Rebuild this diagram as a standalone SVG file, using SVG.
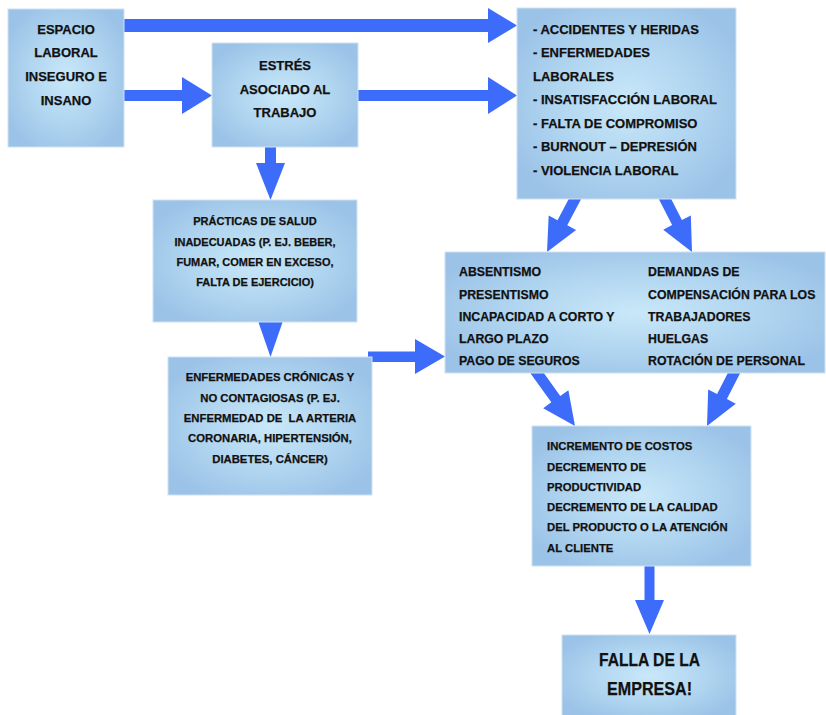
<svg xmlns="http://www.w3.org/2000/svg" width="826" height="715" viewBox="0 0 826 715">
<defs>
<radialGradient id="boxfill" cx="0.5" cy="0.5" r="0.6">
<stop offset="0" stop-color="#c9e8f9"/>
<stop offset="0.55" stop-color="#b0d5f0"/>
<stop offset="1" stop-color="#9bc2e7"/>
</radialGradient>
</defs>
<style>
.box{fill:url(#boxfill);stroke:#cfe2f4;stroke-width:1}
.arr{fill:#3d6cfb}
text{font-family:"Liberation Sans",Arial,sans-serif;font-weight:bold;fill:#111;stroke:#111;stroke-width:0.25}
.c{text-anchor:middle}
.f13{font-size:13px}
.f11{font-size:11px}
.f113{font-size:11.3px}
.f123{font-size:12.3px}
.f18{font-size:18px}
</style>
<rect width="826" height="715" fill="#ffffff"/>
<g id="connectors">
<polygon class="arr" points="120,19 488,19 488,8 517,25.5 488,43 488,32 120,32"/>
<polygon class="arr" points="120,90 182,90 182,77 212,95.5 182,114 182,101 120,101"/>
<polygon class="arr" points="354,90 488,90 488,77 517,95.5 488,114 488,101 354,101"/>
<polygon class="arr" points="265,143 276,143 276,163 285,163 270.5,200 256,163 265,163"/>
<polygon class="arr" points="257,318 284,318 270.5,357"/>
<polygon class="arr" points="368,351.5 415,351.5 415,339 445,356.5 415,374 415,362 368,362"/>
<polygon class="arr" transform="translate(547,252) rotate(117.8)" points="0,0 -33,-15.5 -33,-5.5 -66,-5.5 -66,5.5 -33,5.5 -33,15.5"/>
<polygon class="arr" transform="translate(692,252) rotate(63)" points="0,0 -33,-15.5 -33,-5.5 -66,-5.5 -66,5.5 -33,5.5 -33,15.5"/>
<polygon class="arr" transform="translate(575,426) rotate(54.4)" points="0,0 -33,-15.5 -33,-5.5 -72,-5.5 -72,5.5 -33,5.5 -33,15.5"/>
<polygon class="arr" transform="translate(707,426) rotate(117)" points="0,0 -33,-15.5 -33,-5.5 -66,-5.5 -66,5.5 -33,5.5 -33,15.5"/>
<polygon class="arr" points="644.5,562 654.5,562 654.5,600 664,600 649.5,634 635,600 644.5,600"/>
</g>
<g id="espacio">
<rect class="box" x="8" y="9" width="116" height="138"/>
<text class="c f13" x="66" y="33.5">ESPACIO</text>
<text class="c f13" x="66" y="57.2">LABORAL</text>
<text class="c f13" x="66" y="80.9">INSEGURO E</text>
<text class="c f13" x="66" y="104.6">INSANO</text>
</g>
<g id="estres">
<rect class="box" x="212" y="43" width="146" height="104"/>
<text class="c f13" x="285" y="70">ESTRÉS</text>
<text class="c f13" x="285" y="93.5">ASOCIADO AL</text>
<text class="c f13" x="285" y="116.5">TRABAJO</text>
</g>
<g id="consecuencias">
<rect class="box" x="517" y="8" width="219" height="191"/>
<text class="f13" x="533" y="33.5">- ACCIDENTES Y HERIDAS</text>
<text class="f13" x="533" y="57">- ENFERMEDADES</text>
<text class="f13" x="533" y="80.5">LABORALES</text>
<text class="f13" x="533" y="104">- INSATISFACCIÓN LABORAL</text>
<text class="f13" x="533" y="127.5">- FALTA DE COMPROMISO</text>
<text class="f13" x="533" y="151">- BURNOUT – DEPRESIÓN</text>
<text class="f13" x="533" y="174.5">- VIOLENCIA LABORAL</text>
</g>
<g id="practicas">
<rect class="box" x="153" y="200" width="204" height="122"/>
<text class="c f11" x="255" y="225">PRÁCTICAS DE SALUD</text>
<text class="c f11" x="255" y="245.5">INADECUADAS (P. EJ. BEBER,</text>
<text class="c f11" x="255" y="266">FUMAR, COMER EN EXCESO,</text>
<text class="c f11" x="255" y="286.3">FALTA DE EJERCICIO)</text>
</g>
<g id="cronicas">
<rect class="box" x="168" y="357" width="204" height="138"/>
<text class="c f113" x="270" y="381">ENFERMEDADES CRÓNICAS Y</text>
<text class="c f113" x="270" y="401.5">NO CONTAGIOSAS (P. EJ.</text>
<text class="c f113" x="270" y="422" xml:space="preserve">ENFERMEDAD DE  LA ARTERIA</text>
<text class="c f113" x="270" y="442.4">CORONARIA, HIPERTENSIÓN,</text>
<text class="c f113" x="270" y="462.8">DIABETES, CÁNCER)</text>
</g>
<g id="ausentismo">
<rect class="box" x="445" y="252" width="380" height="121"/>
<text class="f123" x="459" y="276.4">ABSENTISMO</text>
<text class="f123" x="459" y="298.5">PRESENTISMO</text>
<text class="f123" x="459" y="320.6">INCAPACIDAD A CORTO Y</text>
<text class="f123" x="459" y="342.7">LARGO PLAZO</text>
<text class="f123" x="459" y="364.8">PAGO DE SEGUROS</text>
<text class="f123" x="648" y="276.4">DEMANDAS DE</text>
<text class="f123" x="648" y="298.5">COMPENSACIÓN PARA LOS</text>
<text class="f123" x="648" y="320.6">TRABAJADORES</text>
<text class="f123" x="648" y="342.7">HUELGAS</text>
<text class="f123" x="648" y="364.8">ROTACIÓN DE PERSONAL</text>
</g>
<g id="costos">
<rect class="box" x="532" y="426" width="219" height="140"/>
<text class="f113" x="547" y="450.2">INCREMENTO DE COSTOS</text>
<text class="f113" x="547" y="470.5">DECREMENTO DE</text>
<text class="f113" x="547" y="490.8">PRODUCTIVIDAD</text>
<text class="f113" x="547" y="511.1">DECREMENTO DE LA CALIDAD</text>
<text class="f113" x="547" y="531.4">DEL PRODUCTO O LA ATENCIÓN</text>
<text class="f113" x="547" y="551.7">AL CLIENTE</text>
</g>
<g id="falla">
<rect class="box" x="562" y="635" width="174" height="82"/>
<text class="c f18" x="649.5" y="665.5" textLength="101" lengthAdjust="spacingAndGlyphs">FALLA DE LA</text>
<text class="c f18" x="649.5" y="694.5" textLength="85" lengthAdjust="spacingAndGlyphs">EMPRESA!</text>
</g>
</svg>
